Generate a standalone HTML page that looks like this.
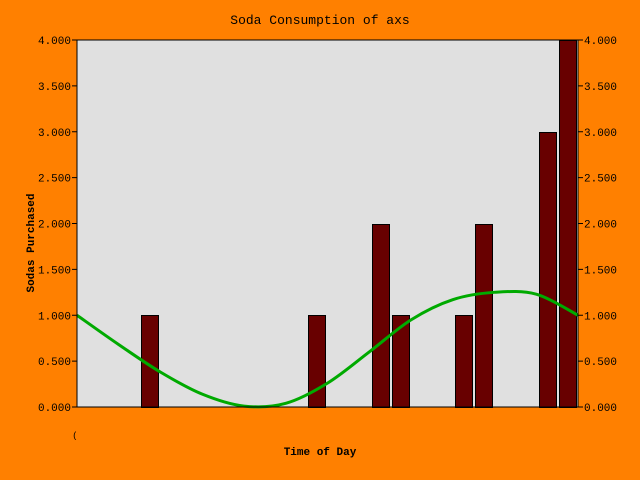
<!DOCTYPE html>
<html><head><meta charset="utf-8"><style>
body{margin:0;background:#ff8000;}
svg{display:block;font-family:"Liberation Mono",monospace;}
</style></head><body>
<svg id="c" width="640" height="480">
<rect x="0" y="0" width="640" height="480" fill="#ff8000"/>
<rect x="77" y="40" width="501" height="367" fill="#e0e0e0"/>
<text x="320" y="24" text-anchor="middle" font-size="13">Soda Consumption of axs</text>
<text transform="translate(34,243) rotate(-90)" text-anchor="middle" font-size="11" font-weight="bold">Sodas Purchased</text>
<text x="320" y="455" text-anchor="middle" font-size="11" font-weight="bold">Time of Day</text>
<text x="75" y="438" text-anchor="middle" font-size="9">(</text>
<g id="g"></g>
</svg>
<script>
const slots=[0,1,2,3,4,5];
const seriesA=[0,0,0,2,1,3];
const seriesB=[1,0,1,1,2,4];
const curveX=[0,0.5,1,1.5,2,2.5,3,3.5,4,4.5,5,5.5,6];
const curveY=[1.0,0.68,0.38,0.14,0.01,0.04,0.26,0.6,0.95,1.17,1.25,1.23,1.0];
const yTicks=[0,0.5,1,1.5,2,2.5,3,3.5,4];
const X0=77,X1=578,Y0=407,Y1=40,sw=(X1-X0)/6;
const xs=v=>X0+v*sw, ys=v=>Y0-(v/4)*(Y0-Y1);
const g=document.getElementById('g'),NS='http://www.w3.org/2000/svg';
function mk(t,a){const e=document.createElementNS(NS,t);for(const k in a)e.setAttribute(k,a[k]);g.appendChild(e);return e;}
slots.forEach((s,i)=>{
 [[seriesA[i],38],[seriesB[i],18]].forEach(([v,off],j)=>{
  if(v<=0)return;
  const bx=Math.floor(xs(s+1)-off)-1, by=Math.round(ys(v)), bb=Math.round(ys(0));
  const r=mk('rect',{x:bx+0.5,y:by+0.5,width:17,height:bb-by,fill:'#680000',stroke:'#000','stroke-width':1});
  
  
 });
});
let d='';
const P=curveX.map((x,i)=>[xs(x),ys(curveY[i])]);
d='M'+P[0][0]+','+P[0][1];
for(let i=0;i<P.length-1;i++){const p0=P[Math.max(i-1,0)],p1=P[i],p2=P[i+1],p3=P[Math.min(i+2,P.length-1)];
 d+=` C${p1[0]+(p2[0]-p0[0])/6},${p1[1]+(p2[1]-p0[1])/6} ${p2[0]-(p3[0]-p1[0])/6},${p2[1]-(p3[1]-p1[1])/6} ${p2[0]},${p2[1]}`;}
const ln=mk('path',{d:d,fill:'none',stroke:'#00aa00','stroke-width':3});


const fr=mk('rect',{x:X0,y:Y1,width:X1-X0,height:Y0-Y1,fill:'none',stroke:'#000','stroke-width':1});


yTicks.forEach(v=>{
 const y=ys(v);
 mk('line',{x1:X0-5,x2:X0,y1:y,y2:y,stroke:'#000'});
 mk('line',{x1:X1,x2:X1+5,y1:y,y2:y,stroke:'#000'});
 const l=mk('text',{x:X0-6,y:y+4,'text-anchor':'end','font-size':11});l.textContent=v.toFixed(3);
 
 
 const r=mk('text',{x:X1+6,y:y+4,'font-size':11});r.textContent=v.toFixed(3);
 
 
});
</script>
</body></html>
